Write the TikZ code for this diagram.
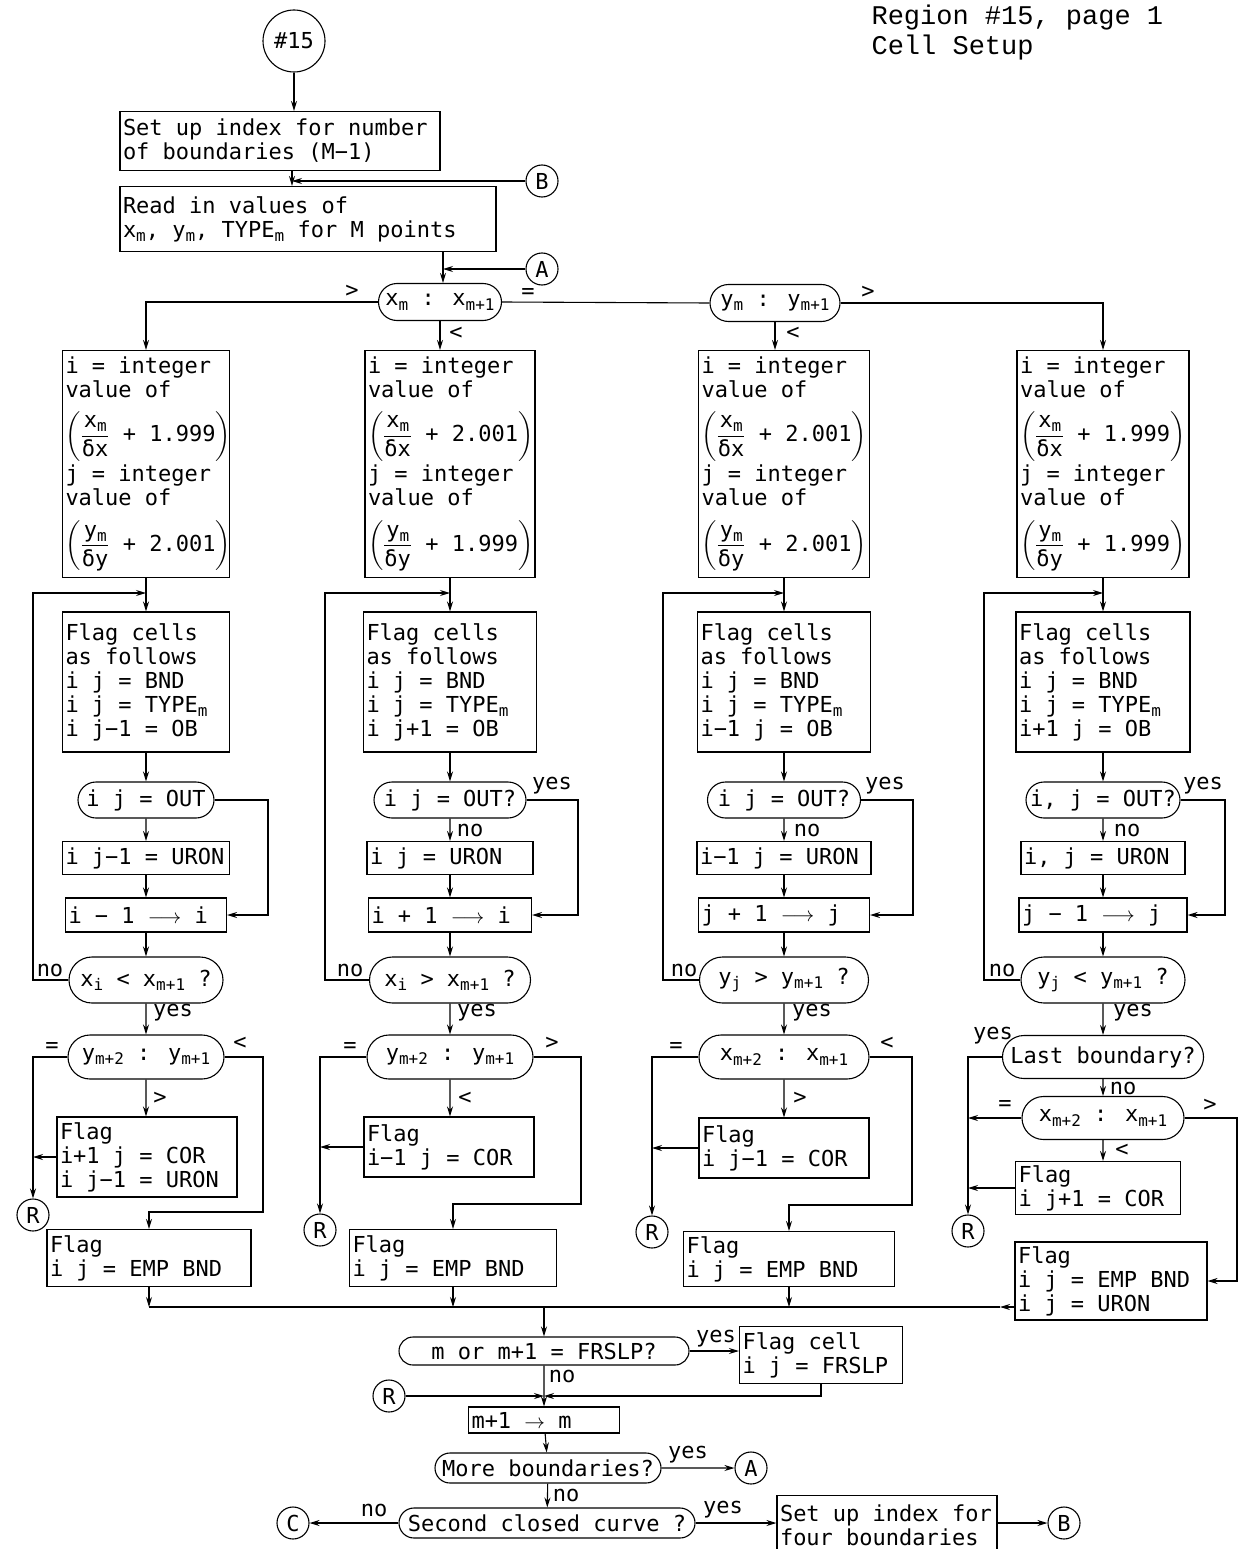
\documentclass[tikz,border=0pt]{standalone}
\usepackage{amsmath}
\usepackage{fontspec}
\setmainfont{DejaVu Sans Mono}
\newfontfamily\typefont{Liberation Mono}
\usetikzlibrary{arrows.meta,shapes.misc}
\newcommand\lo[1]{\raisebox{-0.35ex}{\fontsize{16}{16}\selectfont #1}}
\newcommand\fracterm[3]{$\left(\genfrac{}{}{1pt}{0}{\hbox{#1}}{\hbox{#2}}\hbox{ + #3}\right)$}
\newcommand\lto{$\relbar\joinrel\rightarrow$}

\begin{document}
\begin{tikzpicture}[x=1pt,y=-1pt,
  font=\fontsize{22}{24}\selectfont,
  line width=1.1pt,
  box/.style={draw,align=flush left,inner xsep=3pt,inner ysep=2pt},
  pill/.style={draw,rounded rectangle,inner xsep=5pt,inner ysep=2pt},
  conn/.style={draw,circle,minimum size=32pt,inner sep=0pt},
  tag/.style={inner sep=1pt},
  flow/.style={-{Stealth[length=10pt,width=6pt]}}]
  \useasboundingbox (0,0) rectangle (1242,1549);
  % heading
  \node[anchor=north west,align=left,inner sep=0pt,font={\typefont\fontsize{27}{30}\selectfont}]
       (title) at (871,4) {Region \#15, page 1\\Cell Setup};
  % entry
  \node[conn,minimum size=62pt] (start) at (294,41) {\#15};
  \node[box,text width=314pt,minimum height=59pt] (setup) at (280,141) {Set up index for number\\of boundaries (M−1)};
  \node[box,text width=370pt,minimum height=65pt] (read) at (308,219) {Read in values of\\x\lo{m}, y\lo{m}, TYPE\lo{m} for M points};
  \node[conn] (B) at (542,181) {B};
  \node[conn] (A) at (542,269) {A};
  \coordinate (jB) at (292,181);
  \coordinate (jA) at (443,269);
  \node[pill,minimum width=133pt,minimum height=37pt] (dx) at (440,302) {x\lo{m} : x\lo{m+1}};
  \node[pill,minimum width=140pt,minimum height=37pt] (dy) at (775,303) {y\lo{m} : y\lo{m+1}};
  \node[tag] (gx) at (352,291) {>};
  \node[tag] (ex) at (528,294) {=};
  \node[tag] (lx) at (456,333) {<};
  \node[tag] (gy) at (868,292) {>};
  \node[tag] (ly) at (793,333) {<};
  \draw[flow] (start) -- (start |- setup.north);
  \draw[flow] (setup.south -| jB) -- (read.north -| jB);
  \draw[flow] (B) -- (jB);
  \draw[flow] (read.south -| jA) -- (dx.north -| jA);
  \draw[flow] (A) -- (jA);

  % column 1
  \node[box,text width=161pt,minimum height=227pt] (int1) at (146,464) {i = integer\\value of\\[12pt]\fracterm{x\lo{m}}{δx}{1.999}\\[3pt]j = integer\\value of\\[14pt]\fracterm{y\lo{m}}{δy}{2.001}};
  \node[box,text width=161pt,minimum height=140pt] (flag1) at (146,682) {Flag cells\\as follows\\i j = BND\\i j = TYPE\lo{m}\\i j−1 = OB};
  \node[pill,minimum width=146pt,minimum height=36pt] (out1) at (146,800) {i j = OUT};
  \node[box,text width=161pt,minimum height=33pt] (uron1) at (146,858) {i j−1 = URON};
  \node[box,text width=155pt,minimum height=34pt] (inc1) at (146,915) {i − 1 \lto\ i};
  \node[pill,minimum width=164pt,minimum height=46pt] (cmp1) at (146,980) {x\lo{i} < x\lo{m+1} ?};
  \node[pill,minimum width=166pt,minimum height=44pt] (ord1) at (146,1057) {y\lo{m+2} : y\lo{m+1}};
  \node[box,text width=174pt,minimum height=80pt] (cor1) at (147,1157) {Flag\\i+1 j = COR\\i j−1 = URON};
  \node[conn] (r1) at (33,1215) {R};
  \node[box,text width=198pt,minimum height=57pt] (emp1) at (149,1258) {Flag\\i j = EMP BND};
  \node[tag] (n1) at (50,970) {no};
  \node[tag] (y1) at (173,1013) {yes};
  \node[tag] (e1) at (52,1047) {=};
  \node[tag] (g1) at (240,1043) {<};
  \node[tag] (l1) at (160,1098) {>};

  % column 2
  \node[box,text width=164pt,minimum height=227pt] (int2) at (450,464) {i = integer\\value of\\[12pt]\fracterm{x\lo{m}}{δx}{2.001}\\[3pt]j = integer\\value of\\[14pt]\fracterm{y\lo{m}}{δy}{1.999}};
  \node[box,text width=167pt,minimum height=140pt] (flag2) at (450,682) {Flag cells\\as follows\\i j = BND\\i j = TYPE\lo{m}\\i j+1 = OB};
  \node[pill,minimum width=162pt,minimum height=36pt] (out2) at (450,800) {i j = OUT?};
  \node[box,text width=160pt,minimum height=33pt] (uron2) at (450,858) {i j = URON};
  \node[box,text width=157pt,minimum height=34pt] (inc2) at (450,915) {i + 1 \lto\ i};
  \node[pill,minimum width=171pt,minimum height=46pt] (cmp2) at (450,980) {x\lo{i} > x\lo{m+1} ?};
  \node[pill,minimum width=176pt,minimum height=44pt] (ord2) at (450,1057) {y\lo{m+2} : y\lo{m+1}};
  \node[box,text width=164pt,minimum height=60pt] (cor2) at (449,1147) {Flag\\i−1 j = COR};
  \node[conn] (r2) at (320,1230) {R};
  \node[box,text width=201pt,minimum height=57pt] (emp2) at (453,1258) {Flag\\i j = EMP BND};
  \node[tag] (ys2) at (552,786) {yes};
  \node[tag] (ns2) at (470,830) {no};
  \node[tag] (n2) at (350,970) {no};
  \node[tag] (y2) at (477,1013) {yes};
  \node[tag] (e2) at (350,1047) {=};
  \node[tag] (g2) at (552,1043) {>};
  \node[tag] (l2) at (465,1098) {<};

  % column 3
  \node[box,text width=165pt,minimum height=227pt] (int3) at (784,464) {i = integer\\value of\\[12pt]\fracterm{x\lo{m}}{δx}{2.001}\\[3pt]j = integer\\value of\\[14pt]\fracterm{y\lo{m}}{δy}{2.001}};
  \node[box,text width=167pt,minimum height=140pt] (flag3) at (784,682) {Flag cells\\as follows\\i j = BND\\i j = TYPE\lo{m}\\i−1 j = OB};
  \node[pill,minimum width=163pt,minimum height=36pt] (out3) at (784,800) {i j = OUT?};
  \node[box,text width=168pt,minimum height=33pt] (uron3) at (784,858) {i−1 j = URON};
  \node[box,text width=165pt,minimum height=34pt] (inc3) at (784,915) {j + 1 \lto\ j};
  \node[pill,minimum width=179pt,minimum height=46pt] (cmp3) at (784,980) {y\lo{j} > y\lo{m+1} ?};
  \node[pill,minimum width=180pt,minimum height=44pt] (ord3) at (784,1057) {x\lo{m+2} : x\lo{m+1}};
  \node[box,text width=164pt,minimum height=60pt] (cor3) at (784,1148) {Flag\\i j−1 = COR};
  \node[conn] (r3) at (652,1232) {R};
  \node[box,text width=205pt,minimum height=55pt] (emp3) at (789,1259) {Flag\\i j = EMP BND};
  \node[tag] (ys3) at (885,786) {yes};
  \node[tag] (ns3) at (807,830) {no};
  \node[tag] (n3) at (684,970) {no};
  \node[tag] (y3) at (812,1013) {yes};
  \node[tag] (e3) at (676,1047) {=};
  \node[tag] (g3) at (887,1043) {<};
  \node[tag] (l3) at (800,1098) {>};

  % column 4
  \node[box,text width=166pt,minimum height=227pt] (int4) at (1103,464) {i = integer\\value of\\[12pt]\fracterm{x\lo{m}}{δx}{1.999}\\[3pt]j = integer\\value of\\[14pt]\fracterm{y\lo{m}}{δy}{1.999}};
  \node[box,text width=168pt,minimum height=140pt] (flag4) at (1103,682) {Flag cells\\as follows\\i j = BND\\i j = TYPE\lo{m}\\i+1 j = OB};
  \node[pill,minimum width=164pt,minimum height=36pt] (out4) at (1103,800) {i, j = OUT?};
  \node[box,text width=158pt,minimum height=33pt] (uron4) at (1103,858) {i, j = URON};
  \node[box,text width=162pt,minimum height=34pt] (inc4) at (1103,915) {j − 1 \lto\ j};
  \node[pill,minimum width=174pt,minimum height=46pt] (cmp4) at (1103,980) {y\lo{j} < y\lo{m+1} ?};
  \node[pill,minimum width=188pt,minimum height=43pt] (ord4) at (1103,1057) {Last boundary?};
  \node[pill,minimum width=172pt,minimum height=43pt] (xo4) at (1103,1118) {x\lo{m+2} : x\lo{m+1}};
  \node[box,text width=159pt,minimum height=53pt] (cor4) at (1098,1188) {Flag\\i j+1 = COR};
  \node[conn] (r4) at (968,1231) {R};
  \node[box,text width=186pt,minimum height=78pt] (emp4) at (1111,1281) {Flag\\i j = EMP BND\\i j = URON};
  \node[tag] (ys4) at (1203,786) {yes};
  \node[tag] (ns4) at (1127,830) {no};
  \node[tag] (n4) at (1002,970) {no};
  \node[tag] (y4) at (1133,1013) {yes};
  \node[tag] (yl4) at (993,1036) {yes};
  \node[tag] (nl4) at (1123,1088) {no};
  \node[tag] (e4) at (1005,1105) {=};
  \node[tag] (g4) at (1210,1105) {>};
  \node[tag] (l4) at (1122,1150) {<};

  % top branches
  \draw[flow] (dx.west) -| (int1.north);
  \draw (dx.east) -- (dy.west);
  \draw[flow] (dx.south) -- (dx.south |- int2.north);
  \draw[flow] (dy.south) -- (dy.south |- int3.north);
  \draw[flow] (dy.east) -| (int4.north);

  % common chain of each column
  \foreach \col/\yx/\lx in {1/268/33,2/578/325,3/913/663,4/1225/984}{
    \coordinate (yb\col) at (\yx,800);
    \coordinate (lp\col) at (\lx,593);
  }
  \foreach \col in {1,2,3,4}{
    \draw[flow] (int\col) -- (flag\col);
    \draw[flow] (flag\col) -- (out\col);
    \draw[flow] (out\col) -- (uron\col);
    \draw[flow] (uron\col) -- (inc\col);
    \draw[flow] (inc\col) -- (cmp\col);
    \draw[flow] (cmp\col) -- (ord\col);
    \draw[flow] (out\col.east) -- (yb\col) |- (inc\col.east);
    \draw[flow] (cmp\col.west) -| (lp\col) -- (lp\col -| int\col.south);
  }

  % corner and empty boundary flags
  \coordinate (rt1) at (263,1212);
  \coordinate (rt2) at (581,1204);
  \coordinate (rt3) at (912,1205);
  \coordinate (rt4) at (1237,1281);
  \foreach \col in {1,2,3}{
    \draw[flow] (ord\col) -- (cor\col.north -| ord\col);
    \draw[flow] (ord\col.west) -| (r\col);
    \draw[flow] (cor\col.west) -- (cor\col.west -| r\col);
    \draw[flow] (ord\col.east) -| (rt\col) -| (emp\col.north);
  }
  \draw[flow] (ord4) -- (xo4);
  \draw[flow] (xo4) -- (xo4 |- cor4.north);
  \draw[flow] (ord4.west) -| (r4);
  \draw[flow] (xo4.west) -- (xo4.west -| r4);
  \draw[flow] (cor4.west) -- (cor4.west -| r4);
  \draw[flow] (xo4.east) -| (rt4) -- (emp4.east);

  % merge
  \coordinate (mrg) at (544,1307);
  \coordinate (m4) at (1000,1307);
  \foreach \col in {1,2,3} \draw[flow] (emp\col.south) -- (emp\col.south |- mrg);
  \draw[flow] (emp4.west |- mrg) -- (m4);
  \draw (m4) -- (emp1.south |- mrg);

  % bottom
  \node[pill,minimum width=300pt,minimum height=28pt] (frslp) at (544,1351) {m or m+1 = FRSLP?};
  \node[box,text width=157pt,minimum height=57pt] (fcell) at (821,1355) {Flag cell\\i j = FRSLP};
  \node[conn] (rb) at (389,1396) {R};
  \coordinate (jR) at (544,1396);
  \node[box,text width=145pt,minimum height=26pt] (step) at (544,1420) {m+1 $\rightarrow$ m};
  \node[pill,minimum width=236pt,minimum height=30pt] (more) at (548,1468) {More boundaries?};
  \node[conn] (A2) at (751,1468) {A};
  \node[pill,minimum width=306pt,minimum height=30pt] (second) at (547,1523) {Second closed curve ?};
  \node[conn] (C) at (293,1523) {C};
  \node[box,text width=214pt,minimum height=60pt,anchor=north] (setup4) at (887,1495) {Set up index for\\four boundaries};
  \node[conn] (B2) at (1064,1523) {B};
  \node[tag] (yf) at (716,1339) {yes};
  \node[tag] (nf) at (562,1376) {no};
  \node[tag] (ym) at (688,1455) {yes};
  \node[tag] (nm) at (566,1495) {no};
  \node[tag] (ysc) at (723,1510) {yes};
  \node[tag] (nsc) at (374,1510) {no};
  \draw[flow] (mrg) -- (frslp);
  \draw[flow] (frslp.east) -- (frslp.east -| fcell.west);
  \draw[flow] (frslp) -- (step);
  \draw[flow] (rb) -- (jR);
  \draw[flow] (fcell.south) |- (jR);
  \draw[flow] (step) -- (more);
  \draw[flow] (more) -- (A2);
  \draw[flow] (more) -- (second);
  \draw[flow] (second) -- (C);
  \draw[flow] (second.east) -- (second.east -| setup4.west);
  \draw[flow] (setup4.east |- B2) -- (B2);
\end{tikzpicture}
\end{document}
